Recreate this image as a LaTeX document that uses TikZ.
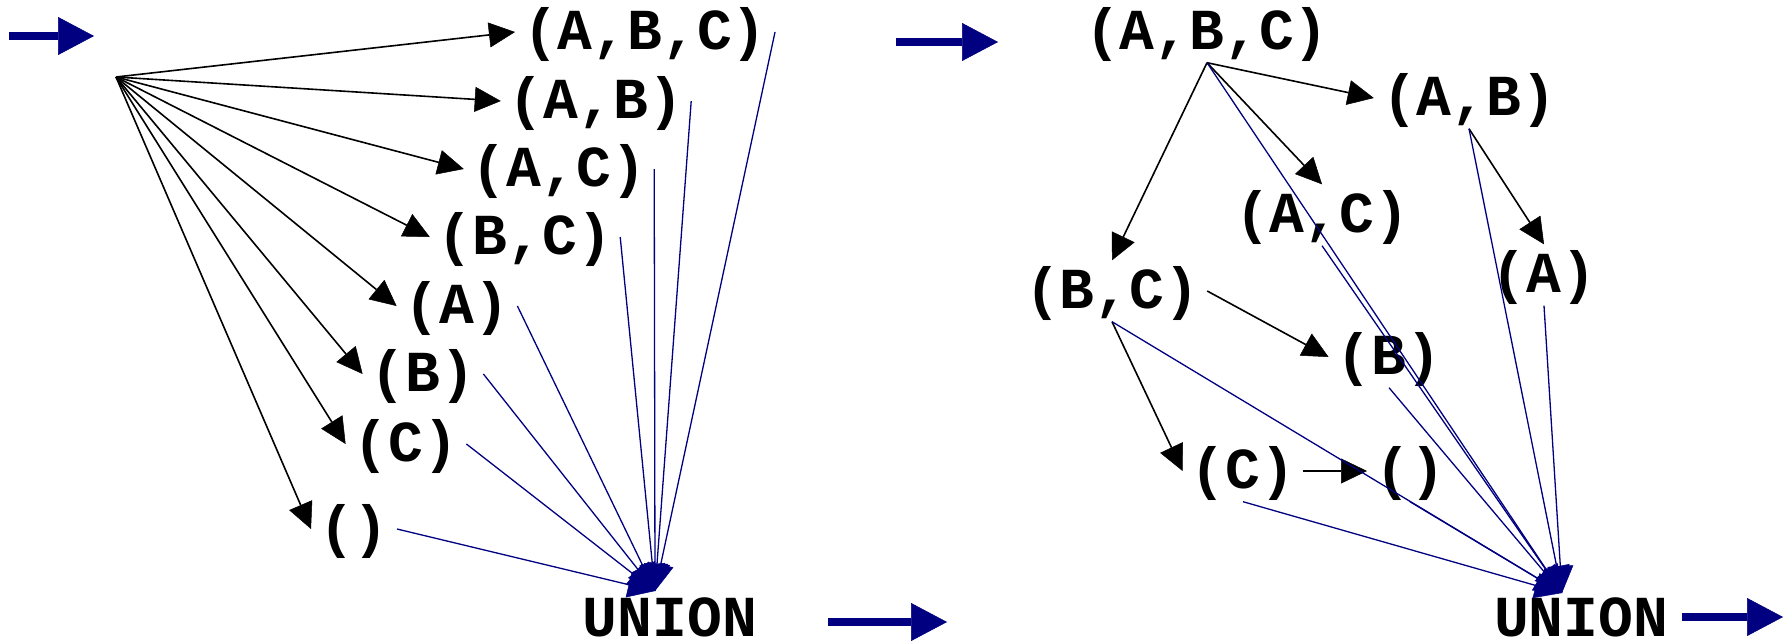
\documentclass[tikz,border=0pt]{standalone}
\usepackage{fontspec}
\setmainfont{Liberation Mono}
\usetikzlibrary{arrows.meta}
\definecolor{navy}{RGB}{0,0,128}
\begin{document}
\begin{tikzpicture}[x=1pt,y=-1pt,
  lbl/.style={font=\fontsize{58}{58}\selectfont\bfseries, inner xsep=8pt, inner ysep=4pt, text height=44pt, text depth=9pt},
  ulbl/.style={lbl, text depth=0pt},
  blk/.style={draw=black, line width=1.6pt, -{Triangle[length=26pt,width=25pt,line width=0.5pt]}},
  blu/.style={draw=navy, line width=1.3pt, -{Triangle[length=27pt,width=26pt,line width=0.5pt]}},
  bigarr/.style={draw=navy, line width=8pt, -{Triangle[length=36pt,width=38pt,line width=0.5pt]}}
]
\useasboundingbox (0,0) rectangle (1785,640);

% ---------- left diagram ----------
\coordinate (src) at (116,77);
\node[lbl] (lABC) at (645,32) {(A,B,C)};
\node[lbl] (lAB) at (596,101) {(A,B)};
\node[lbl] (lAC) at (559,169) {(A,C)};
\node[lbl] (lBC) at (525,237) {(B,C)};
\node[lbl] (lA) at (457,306) {(A)};
\node[lbl] (lB) at (423,374) {(B)};
\node[lbl] (lC) at (406,444) {(C)};
\node[lbl] (lE) at (354,529) {()};
\node[ulbl] (lU) at (670,614) {UNION};
\coordinate (uL) at (655,591);

\foreach \n in {lABC,lAB,lAC,lBC,lA,lB,lC,lE}{
  \draw[blk] (src) -- (\n.west);
  \draw[blu] (\n.east) -- (uL);
}

% ---------- right diagram ----------
\node[lbl] (rABC) at (1207,32) {(A,B,C)};
\node[lbl] (rAB) at (1469,98) {(A,B)};
\node[lbl] (rAC) at (1322,215) {(A,C)};
\node[lbl] (rBC) at (1112,291) {(B,C)};
\node[lbl] (rA) at (1544,275) {(A)};
\node[lbl] (rB) at (1389,357) {(B)};
\node[lbl] (rC) at (1243,471) {(C)};
\node[lbl] (rE) at (1410,471) {()};
\node[ulbl] (rU) at (1581,614) {UNION};
\coordinate (uR) at (1562,593);

\draw[blk] (rABC.south) -- (rAB.west);
\draw[blk] (rABC.south) -- (rAC.north);
\draw[blk] (rABC.south) -- (rBC.north);
\draw[blk] (rAB.south) -- (rA.north);
\draw[blk] (rBC.east) -- (rB.west);
\draw[blk] (rBC.south) -- (rC.west);
\draw[blk] (rC.east) -- (rE.west);

\foreach \n in {rABC,rAB,rAC,rBC,rA,rB,rC,rE}{
  \draw[blu] (\n.south) -- (uR);
}

% ---------- big navy arrows ----------
\coordinate (a1s) at (9,36);    \coordinate (a1e) at (94,36);
\coordinate (a2s) at (896,42);  \coordinate (a2e) at (998,42);
\coordinate (a3s) at (828,622); \coordinate (a3e) at (947,622);
\coordinate (a4s) at (1682,617);\coordinate (a4e) at (1783,617);
\draw[bigarr] (a1s) -- (a1e);
\draw[bigarr] (a2s) -- (a2e);
\draw[bigarr] (a3s) -- (a3e);
\draw[bigarr] (a4s) -- (a4e);
\end{tikzpicture}
\end{document}
